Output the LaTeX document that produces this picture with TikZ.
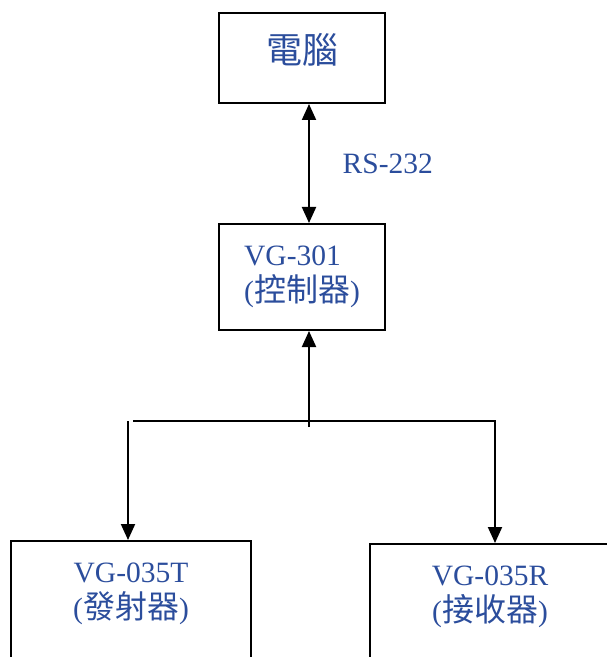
\documentclass[tikz,border=0pt]{standalone}
\usepackage{fontspec}
\setmainfont{Liberation Serif}
\newfontfamily\cjkfont{Noto Sans CJK TC}
\usetikzlibrary{positioning, arrows.meta}
\definecolor{labelblue}{RGB}{43,77,156}
\newcommand{\zh}[2][16]{{\cjkfont\fontsize{#1}{18}\selectfont #2}}

\begin{document}
\begin{tikzpicture}[x=0.5pt, y=-0.5pt, line width=1pt]
  \tikzset{
    box/.style={
      draw,
      minimum width=83pt,
      text=labelblue,
      font=\fontsize{14.75}{18}\selectfont
    },
    tag/.style={
      text=labelblue,
      align=center,
      font=\fontsize{14.75}{18}\selectfont
    },
    link/.style={
      -{Triangle[length=8pt, width=7pt]}
    },
    twoway/.style={
      {Triangle[length=8pt, width=7pt]}-{Triangle[length=8pt, width=7pt]}
    }
  }
  \useasboundingbox (0,0) rectangle (606,657);

  % Draw the boxes
  \node[box, minimum height=45pt, text depth=10pt] at (302, 58) (pc) {\zh[18]{電腦}};
  \node[box, minimum height=53pt, align=left] at (302, 277) (ctrl) {VG-301\\(\zh{控制器})};
  \node[box, minimum width=120pt, minimum height=100pt, anchor=north,
    label={[tag, anchor=north, yshift=-7.5pt]north:{VG-035T\\(\zh{發射器})}}] at (131, 540) (tx) {};
  \node[box, minimum width=120pt, minimum height=100pt, anchor=north,
    label={[tag, anchor=north, yshift=-7.5pt]north:{VG-035R\\(\zh{接收器})}}] at (490, 543) (rx) {};

  % Connect the computer and the controller
  \draw[twoway] ([xshift=3.5pt]pc.south) -- node[tag, right=13pt] (rs) {RS-232} ([xshift=3.5pt]ctrl.north);

  % Branch to the transmitter and the receiver
  \coordinate (split) at (309, 421);
  \coordinate (txtop) at ([xshift=-1.5pt]tx.north);
  \draw[link] ([yshift=-3pt]split) -- ([xshift=3.5pt]ctrl.south);
  \draw[link] (split) -| ([xshift=2.5pt]rx.north);
  \draw (split) -- ([xshift=-88pt]split);
  \draw[link] (txtop |- split) -- (txtop);
\end{tikzpicture}
\end{document}
